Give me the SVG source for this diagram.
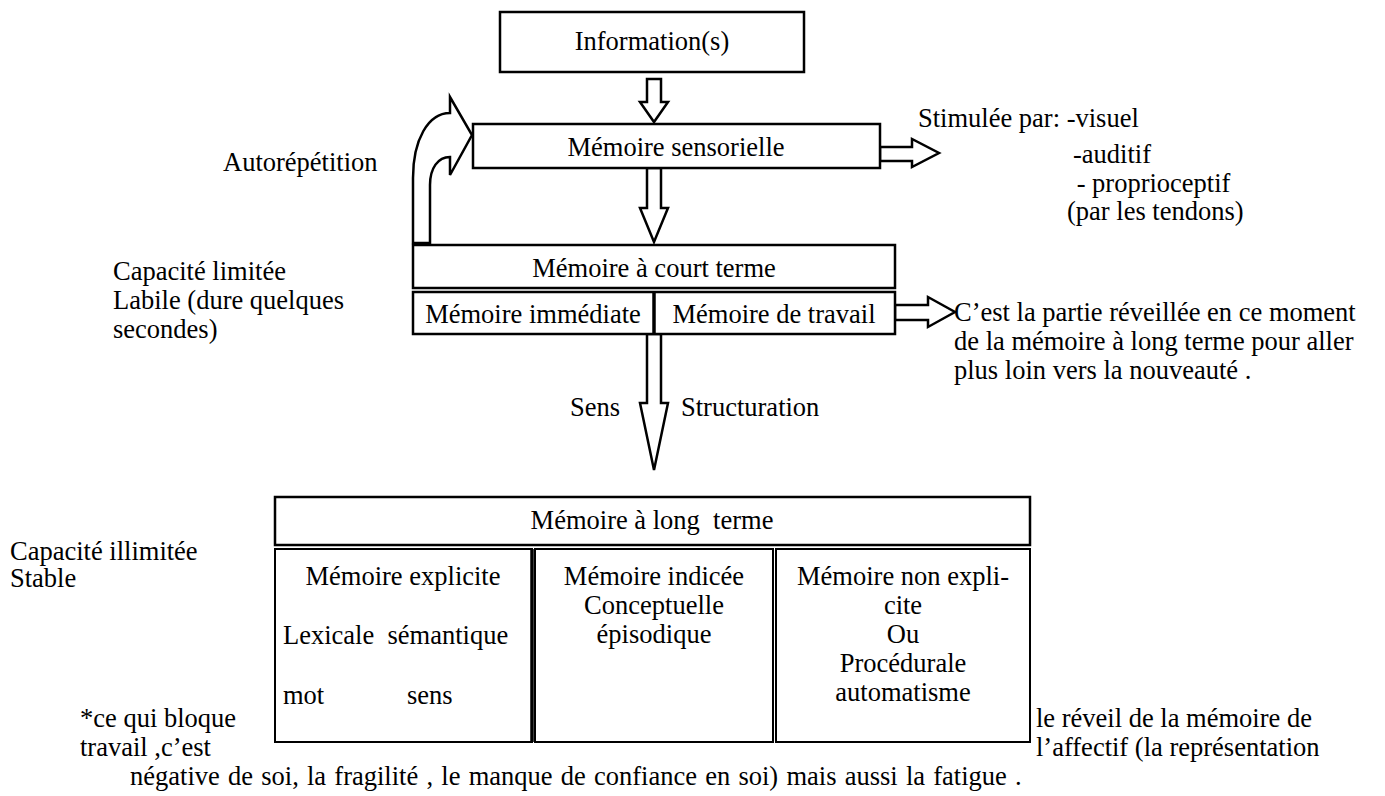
<svg xmlns="http://www.w3.org/2000/svg" width="1385" height="796" viewBox="0 0 1385 796">
<style>
text{font-family:"Liberation Serif","Times New Roman",serif;font-size:26.5px;fill:#000;white-space:pre}
.c{text-anchor:middle}
.box{fill:#fff;stroke:#000;stroke-width:2.5}
.cell{fill:#fff;stroke:#000;stroke-width:2}
.arr{fill:#fff;stroke:#000;stroke-width:2.5;stroke-linejoin:miter}
.bar{stroke:#000;stroke-width:3.5}
</style>
<rect width="1385" height="796" fill="#fff"/>
<g id="connectors">
<path class="arr" d="M647,79 H661 V102 H668 L654,122 L640,102 H647 Z"/>
<path class="arr" d="M647,168 H661 V208 H668 L654,242 L640,208 H647 Z"/>
<path class="arr" d="M647,334 H661 V403 H668 L654,470 L640,403 H647 Z"/>
<path class="arr" d="M880,147 H912 V139 L939,153 L912,167 V161 H880 Z"/>
<path class="arr" d="M895,305 H928 V297 L955,312 L928,327 V320 H895 Z"/>
<path class="arr" d="M413,243 L413,178 C413,140 428,113 450,113 L450,97 L472,135 L450,175 L450,157 C438,157 430,168 430,185 L430,243 Z"/>
</g>
<g id="information">
<rect class="box" x="500" y="12" width="304" height="60"/>
<text class="c" x="652" y="50">Information(s)</text>
</g>
<g id="memoire-sensorielle">
<rect class="box" x="473" y="124" width="407" height="44"/>
<text class="c" x="676" y="156">Mémoire sensorielle</text>
</g>
<g id="stimulee">
<text x="918" y="127">Stimulée par: -visuel</text>
<text x="1073" y="163">-auditif</text>
<text x="1070" y="192"> - proprioceptif</text>
<text x="1067" y="220">(par les tendons)</text>
</g>
<g id="autorepetition">
<text x="223" y="171">Autorépétition</text>
</g>
<g id="memoire-court-terme">
<rect class="box" x="413" y="245" width="482" height="43"/>
<text class="c" x="654" y="277">Mémoire à court terme</text>
<rect class="box" x="413" y="292" width="482" height="42"/>
<line class="bar" x1="654" y1="292" x2="654" y2="334"/>
<text class="c" x="533" y="323">Mémoire immédiate</text>
<text class="c" x="774" y="323">Mémoire de travail</text>
</g>
<g id="capacite-limitee">
<text x="113" y="280">Capacité limitée</text>
<text x="113" y="309">Labile (dure quelques</text>
<text x="113" y="338">secondes)</text>
</g>
<g id="partie-reveillee">
<text x="954" y="321">C’est la partie réveillée en ce moment</text>
<text x="954" y="350">de la mémoire à long terme pour aller</text>
<text x="954" y="379">plus loin vers la nouveauté .</text>
</g>
<g id="sens-structuration">
<text x="570" y="416">Sens</text>
<text x="681" y="416">Structuration</text>
</g>
<g id="capacite-illimitee">
<text x="10" y="560">Capacité illimitée</text>
<text x="10" y="587">Stable</text>
</g>
<g id="memoire-long-terme">
<rect class="box" x="275" y="497" width="755" height="48"/>
<text class="c" x="652" y="529">Mémoire à long  terme</text>
</g>
<g id="memoire-explicite">
<rect class="cell" x="275" y="549" width="257" height="193"/>
<line class="bar" x1="532" y1="549" x2="532" y2="742"/>
<text class="c" x="403" y="585">Mémoire explicite</text>
<text x="283" y="644">Lexicale  sémantique</text>
<text x="283" y="704">mot</text>
<text x="407" y="704">sens</text>
</g>
<g id="memoire-indicee">
<rect class="cell" x="535" y="549" width="238" height="193"/>
<text class="c" x="654" y="585">Mémoire indicée</text>
<text class="c" x="654" y="614">Conceptuelle</text>
<text class="c" x="654" y="643">épisodique</text>
</g>
<g id="memoire-non-explicite">
<rect class="cell" x="776" y="549" width="254" height="193"/>
<text class="c" x="903" y="585">Mémoire non expli-</text>
<text class="c" x="903" y="614">cite</text>
<text class="c" x="903" y="643">Ou</text>
<text class="c" x="903" y="672">Procédurale</text>
<text class="c" x="903" y="701">automatisme</text>
</g>
<g id="note">
<text x="80" y="727">*ce qui bloque</text>
<text x="80" y="756">travail ,c’est</text>
<text x="1036" y="727">le réveil de la mémoire de</text>
<text x="1036" y="756">l’affectif (la représentation</text>
<text x="130" y="785" style="word-spacing:1.6px">négative de soi, la fragilité , le manque de confiance en soi) mais aussi la fatigue .</text>
</g>
</svg>
